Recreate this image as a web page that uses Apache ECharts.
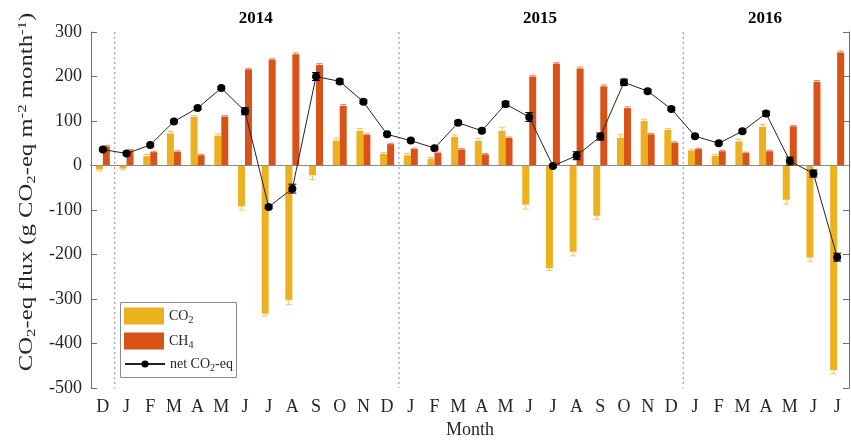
<!DOCTYPE html>
<html><head><meta charset="utf-8">
<script src="https://cdn.jsdelivr.net/npm/echarts@6/dist/echarts.min.js"></script>
<style>html,body{margin:0;padding:0;background:#fff}#c{width:851px;height:440px}</style>
</head><body><div id="c"></div>
<script>
const months = ['D','J','F','M','A','M','J','J','A','S','O','N','D','J','F','M','A','M','J','J','A','S','O','N','D','J','F','M','A','M','J','J'];
const co2    = [-9,-7,21,72,109,67,-92,-333,-303,-22,56,78,26, 23,15,64,55,78,-88,-231,-194,-113,62,100,80, 34,22,54,87,-77,-207,-460];
const co2Err = [3,3,4,4,3,4,8,5,9,10,6,5,3, 4,3,5,6,8,10,5,9,8,8,4,3, 3,3,5,5,10,8,8];
const ch4    = [43,34,30,31,23,110,216,238,250,226,134,69,48, 37,28,36,25,62,200,229,218,178,129,70,51, 37,32,28,32,88,188,254];
const ch4Err = [2,2,2,2,2,2,2,2,3,3,3,2,2, 2,2,2,2,2,3,2,3,3,3,2,2, 2,2,2,2,2,3,3];
const net    = [36,27,46,99,129,174,122,-93,-52,200,189,143,70, 56,39,96,78,138,109,-1,22,65,187,167,127, 66,50,77,117,10,-18,-206];
const netErr = [3,3,3,3,3,3,8,3,10,9,5,4,3, 3,3,4,4,6,10,3,9,8,7,4,3, 3,3,3,5,9,8,9];
const yearLabels = ['2014','2015','2016'];
const yearSpans = [[1,12],[13,24],[25,31]];
const dividerAfter = [0,12,24];

const FONT = 'Liberation Serif';
const TXT = '#262626';
const AX = '#6e6e6e';

function errSeries(name, vals, errs, offset, color, capW, oneSided) {
  return {
    type: 'custom', name: name, silent: true, z: 12,
    data: vals.map((v,i)=>[i, v, errs[i]]),
    encode: {x: 0, y: 1},
    renderItem: function(params, api) {
      const i = api.value(0), v = api.value(1), e = api.value(2);
      let a, b;
      if (oneSided) { a = v; b = v + (v >= 0 ? e : -e); }
      else { a = v - e; b = v + e; }
      const pa = api.coord([i, a]), pb = api.coord([i, b]);
      const x = pa[0] + offset;
      const children = [{type:'line', shape:{x1:x,y1:pa[1],x2:x,y2:pb[1]}, style:{stroke:color,lineWidth:1}}];
      children.push({type:'line', shape:{x1:x-capW/2,y1:pb[1],x2:x+capW/2,y2:pb[1]}, style:{stroke:color,lineWidth:1}});
      if (!oneSided) children.push({type:'line', shape:{x1:x-capW/2,y1:pa[1],x2:x+capW/2,y2:pa[1]}, style:{stroke:color,lineWidth:1}});
      return {type:'group', children: children};
    }
  };
}

const chart = echarts.init(document.getElementById('c'));
const subRich = {
  s: {fontFamily: FONT, fontSize: 10, lineHeight: 8, verticalAlign: 'bottom', color: TXT}
};
const legendFmt = function(n){ return n.replace(/CO2/g,'CO{s|2}').replace('CH4','CH{s|4}'); };
const legendText = {fontFamily: FONT, fontSize: 14, color: TXT, lineHeight: 18, rich: subRich};
chart.setOption({
  animation: false,
  backgroundColor: '#fff',
  grid: {left: 91, right: 2, top: 32, bottom: 52, containLabel: false, outerBoundsMode: 'none'},
  legend: [{
    data: [{name: 'CO2', icon: 'rect'}, {name: 'CH4', icon: 'rect'}],
    orient: 'vertical', left: 120, top: 302,
    itemWidth: 40, itemHeight: 17, itemGap: 7,
    padding: [5, 5, 0, 4],
    formatter: legendFmt, textStyle: legendText
  }, {
    data: ['net CO2-eq'],
    orient: 'vertical', left: 120, top: 355,
    itemWidth: 40, itemHeight: 9,
    padding: [0, 5, 0, 4],
    formatter: legendFmt, textStyle: legendText
  }],
  xAxis: [{
    type: 'category', data: months, boundaryGap: true,
    axisLine: {lineStyle: {color: AX}},
    axisTick: {inside: true, alignWithLabel: true, length: 6, interval: 0, lineStyle: {color: AX}},
    axisLabel: {fontFamily: FONT, fontSize: 18, color: TXT, margin: 10, interval: 0},
    name: 'Month', nameLocation: 'middle', nameGap: 33,
    nameTextStyle: {fontFamily: FONT, fontSize: 18, color: TXT}
  }, {
    type: 'category', data: months, boundaryGap: true, position: 'top',
    axisLine: {lineStyle: {color: AX}},
    axisTick: {inside: true, alignWithLabel: true, length: 6, interval: 0, lineStyle: {color: AX}},
    axisLabel: {show: false}
  }],
  yAxis: [{
    type: 'value', min: -500, max: 300, interval: 100,
    axisLine: {show: true, lineStyle: {color: AX}},
    axisTick: {show: true, inside: true, length: 6, lineStyle: {color: AX}},
    axisLabel: {fontFamily: FONT, fontSize: 18, color: TXT, margin: 9},
    splitLine: {show: false}
  }, {
    type: 'value', min: -500, max: 300, interval: 100, position: 'right',
    axisLine: {show: true, lineStyle: {color: AX}},
    axisTick: {show: true, inside: true, length: 6, lineStyle: {color: AX}},
    axisLabel: {show: false}, splitLine: {show: false}
  }],
  series: [
    {
      type: 'custom', name: 'div', silent: true, z: 1,
      data: dividerAfter.map(i=>[i,0]), encode: {x:0, y:1},
      renderItem: function(params, api){
        const cx = api.coord([api.value(0), 0])[0] + api.size([1,0])[0]/2;
        const cs = params.coordSys;
        return {type:'line', shape:{x1:cx,y1:cs.y,x2:cx,y2:cs.y+cs.height}, style:{stroke:'#8a8a8a', lineWidth:1, lineDash:[2,3]}};
      }
    },
    {
      name: 'CO2', type: 'bar', data: co2, barWidth: 7, barGap: '0%',
      itemStyle: {color: '#EDB120'}, z: 3,
      markLine: {silent: true, symbol: 'none', label: {show: false},
        lineStyle: {color: '#8a8a8a', width: 1, type: 'solid'}, data: [{yAxis: 0}]}
    },
    {
      name: 'CH4', type: 'bar', data: ch4, barWidth: 7, barGap: '0%',
      itemStyle: {color: '#D95319'}, z: 3
    },
    errSeries('co2err', co2, co2Err, -3.5, '#F2C45A', 6, true),
    errSeries('ch4err', ch4, ch4Err, 3.5, '#E8845A', 6, true),
    {
      name: 'net CO2-eq', type: 'line', data: net, z: 10,
      symbol: 'circle', symbolSize: 8,
      itemStyle: {color: '#000'}, lineStyle: {color: '#222', width: 1}
    },
    errSeries('neterr', net, netErr, 0, '#000', 8, false)
  ]
});

const gfx = yearLabels.map((t, k) => {
  const x0 = chart.convertToPixel({xAxisIndex: 0}, yearSpans[k][0]);
  const x1 = chart.convertToPixel({xAxisIndex: 0}, yearSpans[k][1]);
  return {type: 'text', x: (x0 + x1)/2 - 1, y: 19,
    style: {text: t, fontFamily: FONT, fontSize: 17, fontWeight: 'bold', fill: '#000', align: 'center', verticalAlign: 'middle'}};
});
gfx.push({
  type: 'rect', z: 3, shape: {x: 120.5, y: 302.5, width: 116, height: 75},
  style: {fill: '#fff', stroke: '#8a8a8a', lineWidth: 1}
});
gfx.push({
  type: 'text', x: 27, y: 192, rotation: Math.PI/2, scaleX: 1.3, scaleY: 1,
  style: {text: 'CO{s|2}-eq flux (g CO{s|2}-eq m{p|-2} month{p|-1})', fontFamily: FONT, fontSize: 19, fill: TXT,
    lineHeight: 22, align: 'center', verticalAlign: 'middle',
    rich: {
      s: {fontFamily: FONT, fontSize: 13, lineHeight: 9, verticalAlign: 'bottom', fill: TXT},
      p: {fontFamily: FONT, fontSize: 13, lineHeight: 9, verticalAlign: 'top', fill: TXT}
    }}
});
chart.setOption({graphic: gfx});
</script></body></html>
